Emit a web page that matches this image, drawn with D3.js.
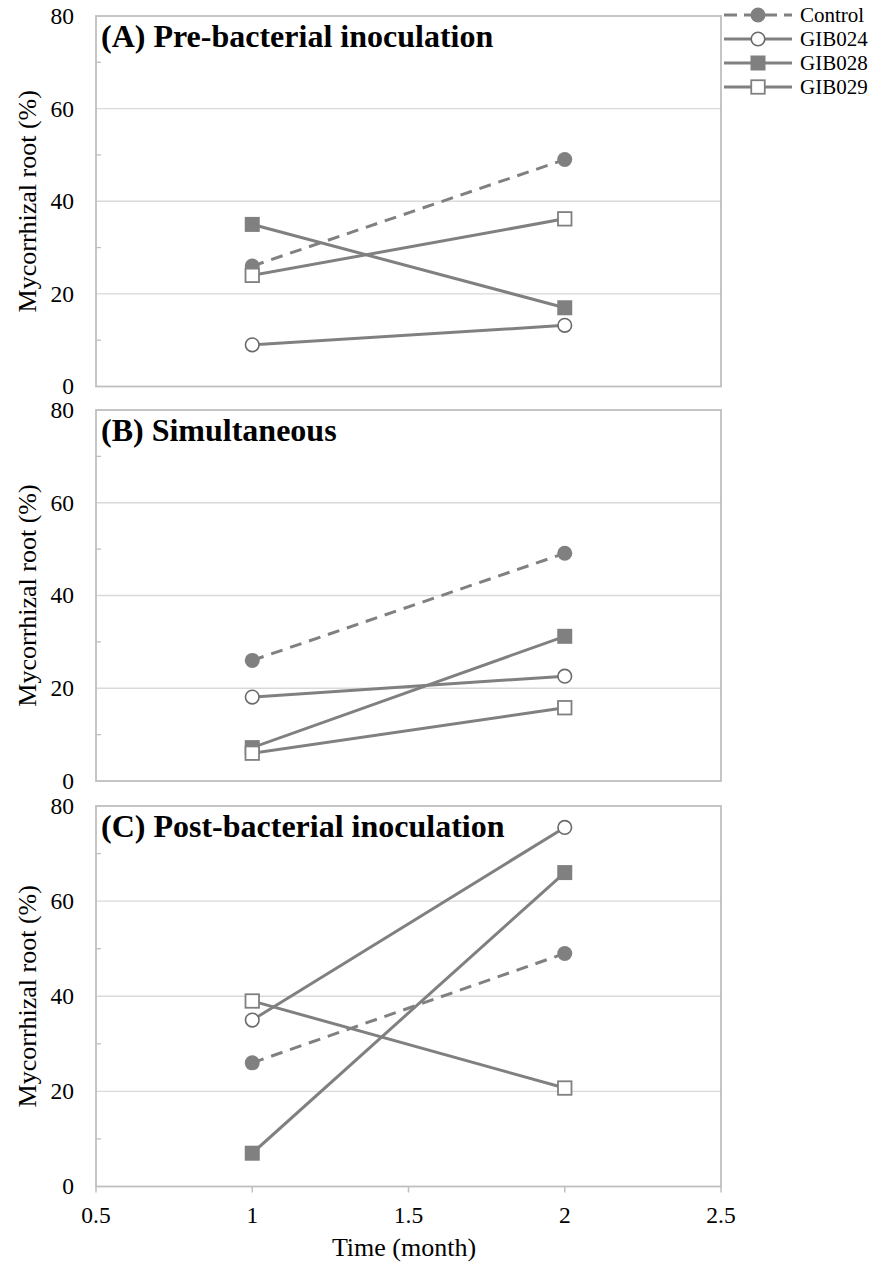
<!DOCTYPE html>
<html>
<head>
<meta charset="utf-8">
<script src="https://cdn.jsdelivr.net/npm/d3@7"></script>
<style>
  body { margin: 0; background: #fff; }
  text { font-family: "Liberation Serif", "Times New Roman", serif; fill: #000; }
</style>
</head>
<body>
<div id="chart"></div>
<script>
var months = [1, 2];
var seriesNames = ["Control", "GIB024", "GIB028", "GIB029"];
var panelTitles = ["(A) Pre-bacterial inoculation", "(B) Simultaneous", "(C) Post-bacterial inoculation"];

// values per series, at month 1 and month 2
var preValues = [[26, 49], [9, 13.2], [35, 17], [24, 36.2]];
var simValues = [[26, 49.1], [18.1, 22.6], [7.2, 31.2], [6, 15.8]];
var postValues = [[26, 49], [35, 75.5], [7, 66], [39, 20.7]];

var xTicks = [0.5, 1, 1.5, 2, 2.5];
var yTicks = [0, 20, 40, 60, 80];
var yMinorTicks = [10, 30, 50, 70];

var width = 882,
    height = 1265;
var lineColor = "#808080";

var svg = d3.select("#chart")
  .append("svg")
    .attr("width", width)
    .attr("height", height);

var x = d3.scaleLinear().domain([0.5, 2.5]).range([96, 721]);

// top / bottom of each plot box
var panels = [
  { top: 16, bottom: 386.5, values: preValues },
  { top: 410, bottom: 781, values: simValues },
  { top: 806, bottom: 1186.5, values: postValues }
];

var markerStyle = [
  { shape: "circle", filled: true, dashed: true },
  { shape: "circle", filled: false, dashed: false },
  { shape: "square", filled: true, dashed: false },
  { shape: "square", filled: false, dashed: false }
];

panels.forEach(function(p, i) {
  drawPanel(p, i);
});
drawXAxis(panels[2]);
drawLegend();

function drawPanel(p, i) {
  var y = d3.scaleLinear().domain([0, 80]).range([p.bottom, p.top]);
  var g = svg.append("g").attr("class", "panel");

  g.selectAll("line.grid")
    .data(yTicks.slice(1, 4))
    .enter()
      .append("line")
      .attr("class", "grid")
      .attr("x1", x(0.5)).attr("x2", x(2.5))
      .attr("y1", function(d) { return y(d); })
      .attr("y2", function(d) { return y(d); })
      .attr("stroke", "#d9d9d9")
      .attr("stroke-width", 1.3);

  g.selectAll("line.minor")
    .data(yMinorTicks)
    .enter()
      .append("line")
      .attr("class", "minor")
      .attr("x1", x(0.5)).attr("x2", x(0.5) + 5)
      .attr("y1", function(d) { return y(d); })
      .attr("y2", function(d) { return y(d); })
      .attr("stroke", "#bfbfbf")
      .attr("stroke-width", 1.3);

  g.append("rect")
    .attr("x", x(0.5))
    .attr("y", y(80))
    .attr("width", x(2.5) - x(0.5))
    .attr("height", y(0) - y(80))
    .attr("fill", "none")
    .attr("stroke", "#bfbfbf")
    .attr("stroke-width", 1.8);

  g.selectAll("text.ytick")
    .data(yTicks)
    .enter()
      .append("text")
      .attr("class", "ytick")
      .attr("x", 74)
      .attr("y", function(d) { return y(d); })
      .attr("dy", "0.34em")
      .attr("text-anchor", "end")
      .attr("font-size", "23.5px")
      .text(function(d) { return d; });

  g.append("text")
    .attr("transform", "translate(36," + ((p.top + p.bottom) / 2) + ") rotate(-90)")
    .attr("text-anchor", "middle")
    .attr("font-size", "26px")
    .text("Mycorrhizal root (%)");

  g.append("text")
    .attr("x", 101)
    .attr("y", p.top + 31)
    .attr("font-size", "32px")
    .attr("font-weight", "bold")
    .text(panelTitles[i]);

  var line = d3.line()
    .x(function(d, k) { return x(months[k]); })
    .y(function(d) { return y(d); });

  p.values.forEach(function(vals, s) {
    var st = markerStyle[s];
    g.append("path")
      .datum(vals)
      .attr("d", line)
      .attr("fill", "none")
      .attr("stroke", lineColor)
      .attr("stroke-width", 3)
      .attr("stroke-dasharray", st.dashed ? "12,8" : null);
    vals.forEach(function(v, k) {
      drawMarker(g, x(months[k]), y(v), st);
    });
  });
}

function drawMarker(g, cx, cy, st) {
  if (st.shape == "circle") {
    g.append("circle")
      .attr("cx", cx).attr("cy", cy)
      .attr("r", st.filled ? 7.5 : 6.8)
      .attr("fill", st.filled ? lineColor : "#fff")
      .attr("stroke", st.filled ? "none" : "#6a6a6a")
      .attr("stroke-width", 1.6);
  } else {
    var s = st.filled ? 15 : 13.5;
    g.append("rect")
      .attr("x", cx - s / 2).attr("y", cy - s / 2)
      .attr("width", s).attr("height", s)
      .attr("fill", st.filled ? lineColor : "#fff")
      .attr("stroke", st.filled ? "none" : lineColor)
      .attr("stroke-width", 1.8);
  }
}

function drawXAxis(p) {
  var g = svg.append("g").attr("class", "x-axis");
  g.selectAll("line")
    .data(xTicks)
    .enter()
      .append("line")
      .attr("x1", function(d) { return x(d); })
      .attr("x2", function(d) { return x(d); })
      .attr("y1", p.bottom)
      .attr("y2", p.bottom + 6)
      .attr("stroke", "#bfbfbf")
      .attr("stroke-width", 1.5);
  g.selectAll("text")
    .data(xTicks)
    .enter()
      .append("text")
      .attr("x", function(d) { return x(d); })
      .attr("y", 1223)
      .attr("text-anchor", "middle")
      .attr("font-size", "23.5px")
      .text(function(d) { return d; });

  svg.append("text")
    .attr("x", 404)
    .attr("y", 1256)
    .attr("text-anchor", "middle")
    .attr("font-size", "26px")
    .text("Time (month)");
}

function drawLegend() {
  var rowY = d3.scalePoint().domain(seriesNames).range([15, 87]);
  var lg = svg.append("g").attr("class", "legend");
  seriesNames.forEach(function(name, s) {
    var st = markerStyle[s];
    var yy = rowY(name);
    lg.append("line")
      .attr("x1", 724).attr("x2", 792)
      .attr("y1", yy).attr("y2", yy)
      .attr("stroke", lineColor)
      .attr("stroke-width", 3)
      .attr("stroke-dasharray", st.dashed ? "13,7" : null);
    drawMarker(lg, 758, yy, st);
    lg.append("text")
      .attr("x", 800)
      .attr("y", yy)
      .attr("dy", "0.34em")
      .attr("font-size", "21px")
      .text(name);
  });
}
</script>
</body>
</html>
